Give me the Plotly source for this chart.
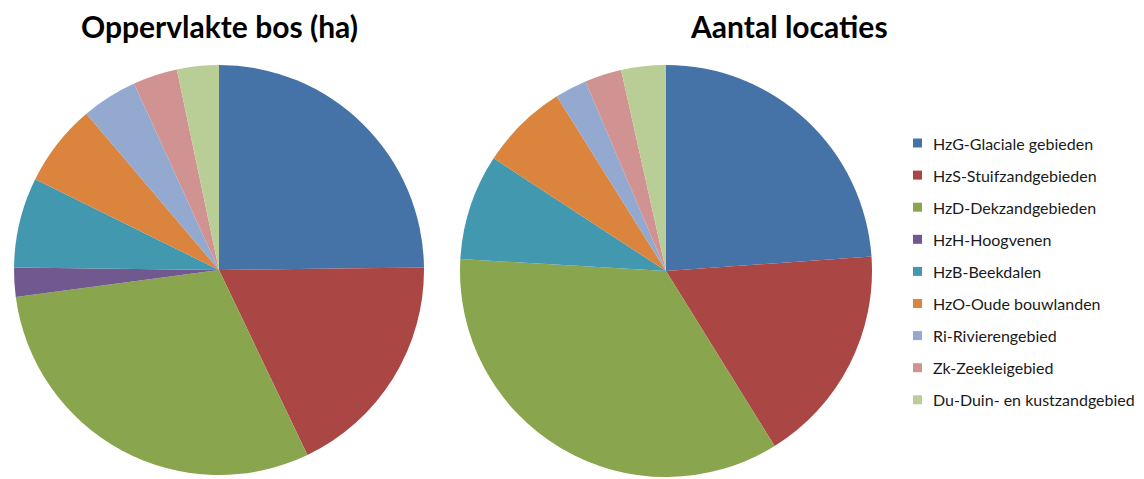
import plotly.graph_objects as go

# Soil / landscape categories (shared by both pies)
labels = [
    "HzG-Glaciale gebieden",
    "HzS-Stuifzandgebieden",
    "HzD-Dekzandgebieden",
    "HzH-Hoogvenen",
    "HzB-Beekdalen",
    "HzO-Oude bouwlanden",
    "Ri-Rivierengebied",
    "Zk-Zeekleigebied",
    "Du-Duin- en kustzandgebied",
]
colors = ["#4572A7", "#AA4643", "#89A54E", "#71588F", "#4198AF",
          "#DB843D", "#93A9CF", "#D19392", "#B9CD96"]

# Share of forest area (%) per category
oppervlakte = [24.8, 18.1, 30.0, 2.3, 7.1, 6.5, 4.4, 3.5, 3.3]
# Share of sampled locations (%) per category
locaties = [23.9, 17.3, 34.8, 0.0, 8.3, 6.9, 2.5, 2.9, 3.5]

titles = ["Oppervlakte bos (ha)", "Aantal locaties"]

W, H = 1144, 479


def px_x(v):
    return v / W


def px_y(v):
    return 1 - v / H


fig = go.Figure()

pie_common = dict(
    labels=labels,
    marker=dict(colors=colors, line=dict(width=0)),
    sort=False,
    direction="clockwise",
    rotation=0,
    textinfo="none",
    hoverinfo="label+percent",
    showlegend=False,
)

fig.add_trace(go.Pie(values=oppervlakte,
                     domain=dict(x=[px_x(14), px_x(424)], y=[px_y(475), px_y(65)]),
                     **pie_common))
fig.add_trace(go.Pie(values=locaties,
                     domain=dict(x=[px_x(460), px_x(872)], y=[px_y(477), px_y(65)]),
                     **pie_common))

annotations = []
shapes = []

# Chart titles
for text, cx in zip(titles, [219, 789]):
    annotations.append(dict(
        text=f"<b>{text}</b>", x=px_x(cx), y=px_y(26), xref="paper", yref="paper",
        xanchor="center", yanchor="middle", showarrow=False,
        font=dict(family="Lato, Carlito, sans-serif", size=30, color="#000000"),
    ))

# Legend: colour square + label per category
row0, step = 143, 32.1
for i, (lab, col) in enumerate(zip(labels, colors)):
    yc = row0 + i * step
    shapes.append(dict(
        type="rect", xref="paper", yref="paper",
        x0=px_x(913), x1=px_x(922), y0=px_y(yc + 4.5), y1=px_y(yc - 4.5),
        fillcolor=col, line=dict(width=0),
    ))
    annotations.append(dict(
        text=lab, x=px_x(931), y=px_y(yc), xref="paper", yref="paper",
        xanchor="left", yanchor="middle", showarrow=False,
        font=dict(family="Lato, Carlito, sans-serif", size=16, color="#1a1a1a"),
    ))

fig.update_layout(
    width=W, height=H,
    margin=dict(l=0, r=0, t=0, b=0),
    paper_bgcolor="white",
    plot_bgcolor="white",
    annotations=annotations,
    shapes=shapes,
)

fig.write_html("out.html")
